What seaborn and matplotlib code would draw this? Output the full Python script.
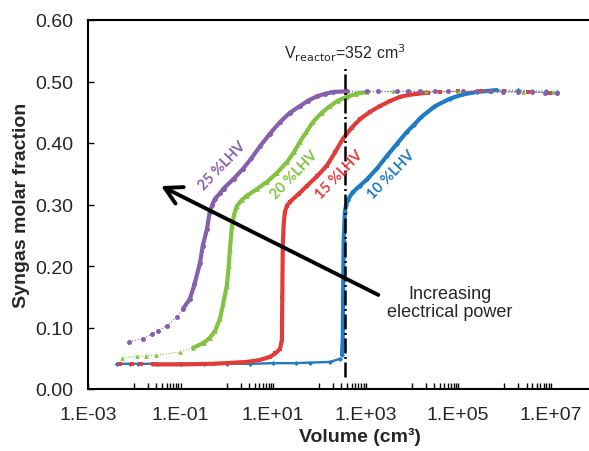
import numpy as np
import pandas as pd
import seaborn as sns
import matplotlib.pyplot as plt
from matplotlib.ticker import FixedLocator, FuncFormatter

sns.set_style("white")
plt.rcParams['font.family'] = ['Liberation Sans', 'DejaVu Sans']

# volumes (cm3) and syngas molar fraction
vol_10 = [0.00417, 0.00813, 0.0123, 0.0316, 0.1, 0.316, 1.0, 3.16, 10.0, 31.6,
          63.1, 170, 275, 309, 320, 327, 335, 355, 380, 417, 525, 741, 1072,
          1778, 2884, 4786, 7762, 11220, 15849, 31623, 66069, 125893, 251189,
          676083, 1995262, 3981072, 7943282, 13489629]
frac_10 = [0.041, 0.041, 0.041, 0.041, 0.041, 0.041, 0.041, 0.041, 0.042, 0.042,
           0.043, 0.044, 0.049, 0.056, 0.080, 0.160, 0.240, 0.288, 0.300, 0.308,
           0.320, 0.330, 0.341, 0.359, 0.379, 0.399, 0.418, 0.430, 0.442, 0.460,
           0.472, 0.479, 0.483, 0.486, 0.486, 0.485, 0.484, 0.483]

vol_15 = [0.0049, 0.0089, 0.0141, 0.0251, 0.1, 0.501, 2.69, 5.01, 8.51, 11.2,
          14.1, 15.5, 15.8, 16.2, 17.0, 18.0, 20.0, 22.9, 35.5, 53.7, 89.1, 145,
          219, 324, 501, 759, 1259, 2042, 3311, 5495, 8318, 12882, 22387, 39811,
          100000, 316228, 1000000, 3162278, 9549926]
frac_15 = [0.040, 0.040, 0.040, 0.040, 0.040, 0.041, 0.044, 0.047, 0.052, 0.058,
           0.065, 0.080, 0.150, 0.233, 0.270, 0.288, 0.298, 0.304, 0.317, 0.330,
           0.346, 0.363, 0.385, 0.407, 0.425, 0.439, 0.451, 0.460, 0.468, 0.475,
           0.478, 0.480, 0.482, 0.483, 0.484, 0.484, 0.484, 0.483, 0.482]

vol_20 = [0.00537, 0.0112, 0.0178, 0.0302, 0.0977, 0.186, 0.316, 0.427, 0.562,
          0.708, 0.832, 1.0, 1.10, 1.17, 1.29, 1.45, 1.66, 2.09, 2.69, 4.47,
          7.41, 12.0, 20.0, 28.2, 38.0, 52.5, 72.4, 112, 170, 251, 389, 631,
          1072, 3981, 19953, 100000, 501187, 2511886, 11220185]
frac_20 = [0.050, 0.053, 0.054, 0.055, 0.060, 0.067, 0.075, 0.083, 0.095,
           0.114, 0.138, 0.168, 0.200, 0.228, 0.265, 0.285, 0.298, 0.307, 0.314,
           0.325, 0.337, 0.351, 0.369, 0.385, 0.402, 0.418, 0.434, 0.449, 0.460,
           0.469, 0.475, 0.480, 0.483, 0.484, 0.484, 0.484, 0.484, 0.483, 0.483]

vol_25 = [0.00776, 0.0155, 0.0240, 0.0324, 0.0501, 0.0832, 0.112, 0.158, 0.200,
          0.263, 0.302, 0.372, 0.427, 0.490, 0.550, 0.708, 0.851, 1.41, 2.24,
          3.39, 5.25, 8.51, 14.1, 22.9, 38.0, 57.5, 89.1, 132, 195, 389, 1047,
          1820, 4677, 8128, 14791, 30903, 60256, 125893, 251189, 478630, 912011,
          1949845, 3890451, 7413102, 13489629]
frac_25 = [0.077, 0.082, 0.089, 0.094, 0.103, 0.117, 0.130, 0.146, 0.170,
           0.205, 0.233, 0.260, 0.288, 0.300, 0.309, 0.318, 0.326, 0.342, 0.358,
           0.375, 0.395, 0.415, 0.434, 0.449, 0.460, 0.469, 0.476, 0.480, 0.483,
           0.484, 0.484, 0.484, 0.484, 0.484, 0.484, 0.484, 0.484, 0.484, 0.484,
           0.484, 0.483, 0.483, 0.483, 0.482, 0.482]

labels = ['10 %LHV', '15 %LHV', '20 %LHV', '25 %LHV']
v_reactor = 352

series = [
    # label, vol, frac, colour, marker, marker size, thin range, thick range
    (labels[0], vol_10, frac_10, '#1f7bc4', 'D', 2.6, (0.004, 300), (300, 1.0e6)),
    (labels[1], vol_15, frac_15, '#e23c3a', 's', 3.2, None, (0.02, 3.0e4)),
    (labels[2], vol_20, frac_20, '#84c242', '^', 3.4, None, (0.1, 2.0e3)),
    (labels[3], vol_25, frac_25, '#8560ad', 'o', 3.6, None, (0.1, 400)),
]

fig = plt.figure(figsize=(5.89, 4.52), dpi=100)
ax = fig.add_axes([88 / 589, 62 / 452, 509 / 589, 369 / 452])

for name, v, f, col, mk, ms, thin, thick in series:
    df = pd.DataFrame({'vol': v, 'frac': f})
    sns.lineplot(data=df, x='vol', y='frac', sort=False, estimator=None,
                 color=col, lw=0.8, ls=':', marker=mk, ms=ms, mew=0,
                 ax=ax)
    if thin is not None:
        part = df[(df.vol >= thin[0]) & (df.vol <= thin[1])]
        sns.lineplot(data=part, x='vol', y='frac', sort=False,
                     estimator=None, color=col, lw=1.7, ax=ax)
    part = df[(df.vol >= thick[0]) & (df.vol <= thick[1])]
    sns.lineplot(data=part, x='vol', y='frac', sort=False, estimator=None,
                 color=col, lw=3.0, ax=ax)

ax.set_xscale('log')
ax.set_xlim(1e-3, 1e8)
ax.set_ylim(0, 0.6)

# reactor volume
ax.plot([v_reactor, v_reactor], [0.02, 0.525], color='black', lw=1.8,
        ls=(0, (6, 1.4, 0.8, 1.4)))
ax.text(v_reactor, 0.537, r'V$_{\mathrm{reactor}}$=352 cm$^{3}$',
        ha='center', va='baseline', fontsize=11.5)

# arrow
ax.annotate('', xy=(0.038, 0.330), xytext=(1880, 0.153),
            arrowprops=dict(arrowstyle='->,head_length=0.6,head_width=0.33',
                            lw=2.8, color='black', mutation_scale=20,
                            shrinkA=0, shrinkB=0))
ax.text(6.6e4, 0.141, 'Increasing\nelectrical power', ha='center',
        va='center', fontsize=13, linespacing=1.1)

# curve labels
lab_pos = [(3600, 0.349), (273, 0.349), (29.2, 0.349), (0.80, 0.364)]
for (name, v, f, col, mk, ms, thin, thick), (lx, ly) in zip(series, lab_pos):
    ax.text(lx, ly, name, color=col, rotation=46, rotation_mode='anchor',
            ha='center', va='center', fontsize=10.5, fontweight='bold',
            family=['Lato', 'DejaVu Sans'])

# ticks
ax.xaxis.set_major_locator(FixedLocator([10.0 ** e for e in range(-3, 9, 2)]))
minor = [k * 10.0 ** d for d in range(-2, 8, 2) for k in range(1, 10)]
ax.xaxis.set_minor_locator(FixedLocator(minor))
ax.xaxis.set_major_formatter(FuncFormatter(
    lambda x, p: '1.E{:+03d}'.format(int(round(np.log10(x))))))
ax.xaxis.set_minor_formatter(FuncFormatter(lambda x, p: ''))
ax.set_yticks(np.arange(0, 0.61, 0.1))
ax.yaxis.set_major_formatter(FuncFormatter(lambda y, p: '%.2f' % y))
ax.tick_params(axis='x', which='both', direction='in', length=4, width=1,
               color='black', pad=12.5, labelsize=14, bottom=True)
ax.tick_params(axis='y', which='major', direction='in', length=4, width=1,
               color='black', pad=10.5, labelsize=14, left=True)

for s in ['left', 'top', 'bottom']:
    ax.spines[s].set_color('black')
    ax.spines[s].set_linewidth(1.5)
ax.spines['right'].set_visible(False)

ax.set_xlabel('Volume (cm³)', fontsize=14, fontweight='bold')
ax.xaxis.set_label_coords((360 - 88) / 509, -0.104)
ax.set_ylabel('Syngas molar fraction', fontsize=14, fontweight='bold')
ax.yaxis.set_label_coords(-0.113, 0.5)

fig.savefig('out.png', dpi=100)
